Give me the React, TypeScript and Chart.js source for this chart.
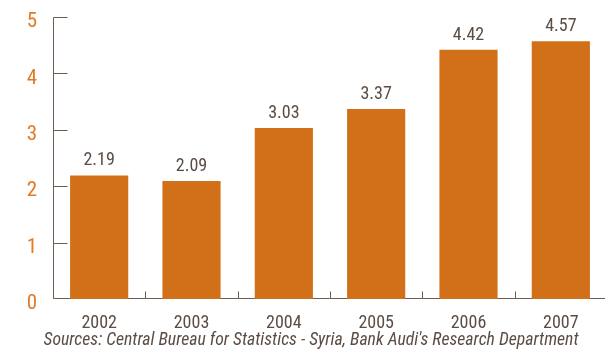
import React, { useEffect, useRef } from "react";
import { Chart, registerables } from "chart.js";

Chart.register(...registerables);

const categories = ["2002", "2003", "2004", "2005", "2006", "2007"];
const values = [2.19, 2.09, 3.03, 3.37, 4.42, 4.57];
const valueLabels = ["2.19", "2.09", "3.03", "3.37", "4.42", "4.57"];
const yTicks = [0, 1, 2, 3, 4, 5];
const sourceText = "Sources: Central Bureau for Statistics - Syria, Bank Audi's Research Department";

const FONT = "'Liberation Sans Narrow', 'Arial Narrow', 'Roboto Condensed', 'Liberation Sans', sans-serif";
const BAR = "#d2701a";
const ORANGE = "#e07b24";
const TEXT = "#5b4c44";
const AXIS = "#6e5c52";

const decorPlugin = {
  id: "decor",
  beforeDatasetsDraw(chart: any) {
    const { ctx, chartArea, scales } = chart;
    const x = scales.x;
    const y = scales.y;
    ctx.save();
    ctx.strokeStyle = AXIS;
    ctx.lineWidth = 1;
    const y0 = Math.round(y.getPixelForValue(0)) - 0.5;
    const left = Math.round(chartArea.left) + 0.5;
    ctx.beginPath();
    ctx.moveTo(left, Math.round(y.getPixelForValue(5)) + 0.5);
    ctx.lineTo(left, y0);
    ctx.stroke();
    yTicks.forEach((v) => {
      const py = Math.round(y.getPixelForValue(v)) + (v === 0 ? -0.5 : 0.5);
      ctx.beginPath();
      ctx.moveTo(left, py);
      ctx.lineTo(left + 14, py);
      ctx.stroke();
    });
    ctx.beginPath();
    ctx.moveTo(left, y0);
    ctx.lineTo(chartArea.right - 2, y0);
    ctx.stroke();
    for (let i = 1; i < categories.length; i++) {
      const px = Math.round((x.getPixelForValue(i - 1) + x.getPixelForValue(i)) / 2) + 0.5;
      ctx.beginPath();
      ctx.moveTo(px, y0);
      ctx.lineTo(px, y0 - 7);
      ctx.stroke();
    }
    ctx.restore();
  },
  afterDatasetsDraw(chart: any) {
    const { ctx } = chart;
    const meta = chart.getDatasetMeta(0);
    ctx.save();
    ctx.fillStyle = TEXT;
    ctx.font = "18px " + FONT;
    ctx.textAlign = "center";
    ctx.textBaseline = "alphabetic";
    meta.data.forEach((bar: any, i: number) => {
      ctx.fillText(valueLabels[i], bar.x, bar.y - 10);
    });
    ctx.font = "italic 17.7px " + FONT;
    ctx.fillStyle = TEXT;
    ctx.textAlign = "center";
    ctx.textBaseline = "middle";
    ctx.fillText(sourceText, 311, 341);
    ctx.restore();
  },
};

export default function App() {
  const ref = useRef<HTMLCanvasElement>(null);
  useEffect(() => {
    if (!ref.current) return;
    const chart = new Chart(ref.current, {
      type: "bar",
      data: {
        labels: categories,
        datasets: [
          {
            data: values,
            backgroundColor: BAR,
            borderWidth: 0,
            categoryPercentage: 1,
            barPercentage: 0.63,
          },
        ],
      },
      options: {
        responsive: false,
        animation: false,
        layout: { padding: { top: 17, right: 0, left: 0, bottom: 0 } },
        plugins: { legend: { display: false }, tooltip: { enabled: false }, title: { display: false } },
        scales: {
          x: {
            grid: { display: false },
            border: { display: false },
            ticks: { color: TEXT, font: { family: FONT, size: 18 }, padding: 6, maxRotation: 0 },
            afterFit: (s: any) => {
              s.height = 50;
              s.paddingLeft = 0;
              s.paddingRight = 0;
            },
          },
          y: {
            min: 0,
            max: 5,
            grid: { display: false },
            border: { display: false },
            ticks: {
              stepSize: 1,
              color: ORANGE,
              font: { family: FONT, size: 21 },
              padding: 8,
              labelOffset: 5,
            },
            afterFit: (s: any) => {
              s.width = 53;
              s.paddingTop = 0;
              s.paddingBottom = 0;
            },
          },
        },
      },
      plugins: [decorPlugin],
    });
    return () => chart.destroy();
  }, []);
  return (
    <div style={{ position: "absolute", left: 0, top: 0, width: 607, height: 349, background: "#fff" }}>
      <canvas ref={ref} width={607} height={349} style={{ display: "block" }} />
    </div>
  );
}
